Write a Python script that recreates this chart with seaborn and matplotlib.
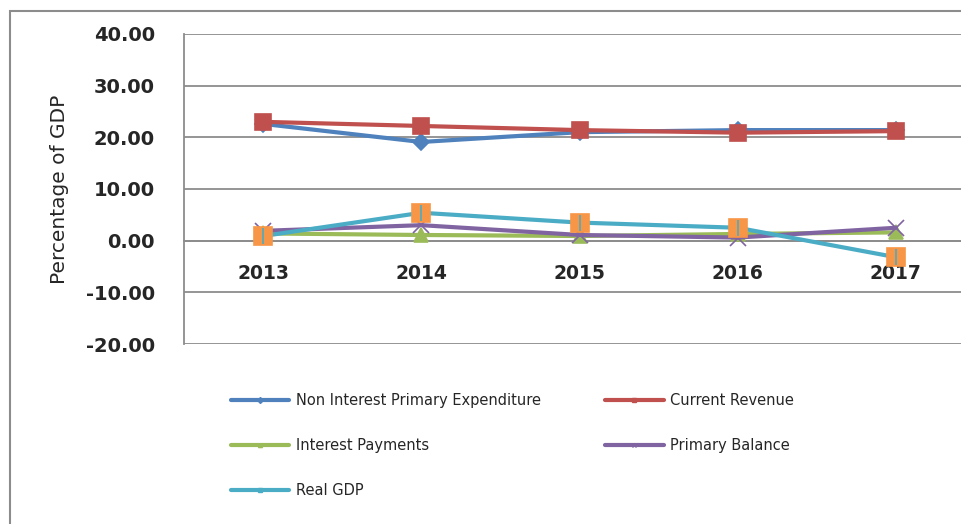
import pandas as pd
import seaborn as sns
import matplotlib.pyplot as plt
from matplotlib.lines import Line2D
from matplotlib.patches import Rectangle

# Values (percentage of GDP)
years = ['2013', '2014', '2015', '2016', '2017']
non_interest_exp = [22.6, 19.1, 21.0, 21.4, 21.4]
current_revenue = [23.0, 22.2, 21.4, 20.9, 21.2]
interest_payments = [1.4, 1.1, 0.9, 1.3, 1.6]
primary_balance = [1.9, 3.0, 1.1, 0.6, 2.5]
real_gdp = [0.9, 5.4, 3.5, 2.5, -3.2]

series_names = ['Non Interest Primary Expenditure', 'Current Revenue',
                'Interest Payments', 'Primary Balance', 'Real GDP']
y_ticks = [-20, -10, 0, 10, 20, 30, 40]

sns.set_style('white')
plt.rcParams['font.family'] = ['DejaVu Sans']

colors = ['#4F81BD', '#C0504D', '#9BBB59', '#8064A2', '#4BACC6']
markers = ['D', 's', '^', 'x', 's']
msizes = [8, 11, 10, 11, 13]

fig = plt.figure(figsize=(9.61, 5.24), dpi=100)
ax = fig.add_axes([184 / 961, 1 - 344 / 524, (975 - 184) / 961, (344 - 34) / 524])

data = [non_interest_exp, current_revenue, interest_payments, primary_balance, real_gdp]
for i, (name, vals) in enumerate(zip(series_names, data)):
    df = pd.DataFrame({'year': years, 'value': vals})
    mfc = '#F79646' if name == 'Real GDP' else colors[i]
    sns.lineplot(data=df, x='year', y='value', ax=ax, color=colors[i], lw=3,
                 marker=markers[i], markersize=msizes[i], markerfacecolor=mfc,
                 markeredgecolor=mfc if markers[i] != 'x' else colors[i],
                 markeredgewidth=1.2, zorder=3 + i)
    if name == 'Real GDP':
        # thin cyan bar through the orange marker, like the Excel marker
        sns.lineplot(data=df, x='year', y='value', ax=ax, lw=0, marker='|',
                     markersize=12, markeredgecolor=colors[i], markeredgewidth=1.2,
                     zorder=9)

ax.set_xlim(-0.5, 4.5)
ax.set_ylim(-20, 40)
ax.set_yticks(y_ticks)
ax.set_yticklabels([f'{v:.2f}' for v in y_ticks])
ax.yaxis.grid(True, color='#8c8c8c', lw=1.3)
ax.set_axisbelow(True)

for side in ['top', 'right']:
    ax.spines[side].set_visible(False)
ax.spines['left'].set_color('#8c8c8c')
ax.spines['left'].set_linewidth(1.3)
ax.spines['bottom'].set_position(('data', 0))
ax.spines['bottom'].set_color('#8c8c8c')
ax.spines['bottom'].set_linewidth(1.3)

ax.tick_params(axis='y', direction='out', length=7, width=1.3, color='#8c8c8c',
               pad=14, labelsize=14)
ax.tick_params(axis='x', which='major', length=0, pad=17, labelsize=13.5)
ax.set_xticks([0.5, 1.5, 2.5, 3.5], minor=True)
ax.tick_params(axis='x', which='minor', direction='out', length=6, width=1.3,
               color='#8c8c8c')
for lbl in ax.get_xticklabels() + ax.get_yticklabels():
    lbl.set_fontweight('bold')

ax.set_xlabel('')
ax.set_ylabel('Percentage of GDP', fontsize=14.5, labelpad=12)

# legend with short lines below the plot, filled row by row
handles = [Line2D([0], [0], color=c, lw=3, marker=m, markersize=3,
                  markerfacecolor=c, markeredgecolor=c)
           for c, m in zip(colors, markers)]
order = [0, 2, 4, 1, 3]
fig.legend([handles[k] for k in order], [series_names[k] for k in order],
           loc='upper left', bbox_to_anchor=(218 / 961, 1 - 380 / 524),
           ncol=2, frameon=False, fontsize=10.5, handlelength=4.0, labelspacing=2.05,
           columnspacing=4.4, handletextpad=0.45)

# outer chart border
fig.patches.append(Rectangle((10 / 961, -0.1), 1.2, 1 - 11.5 / 524 + 0.1,
                             transform=fig.transFigure, fill=False,
                             edgecolor='#8c8c8c', lw=1.5))

fig.savefig('out.png', dpi=100)
